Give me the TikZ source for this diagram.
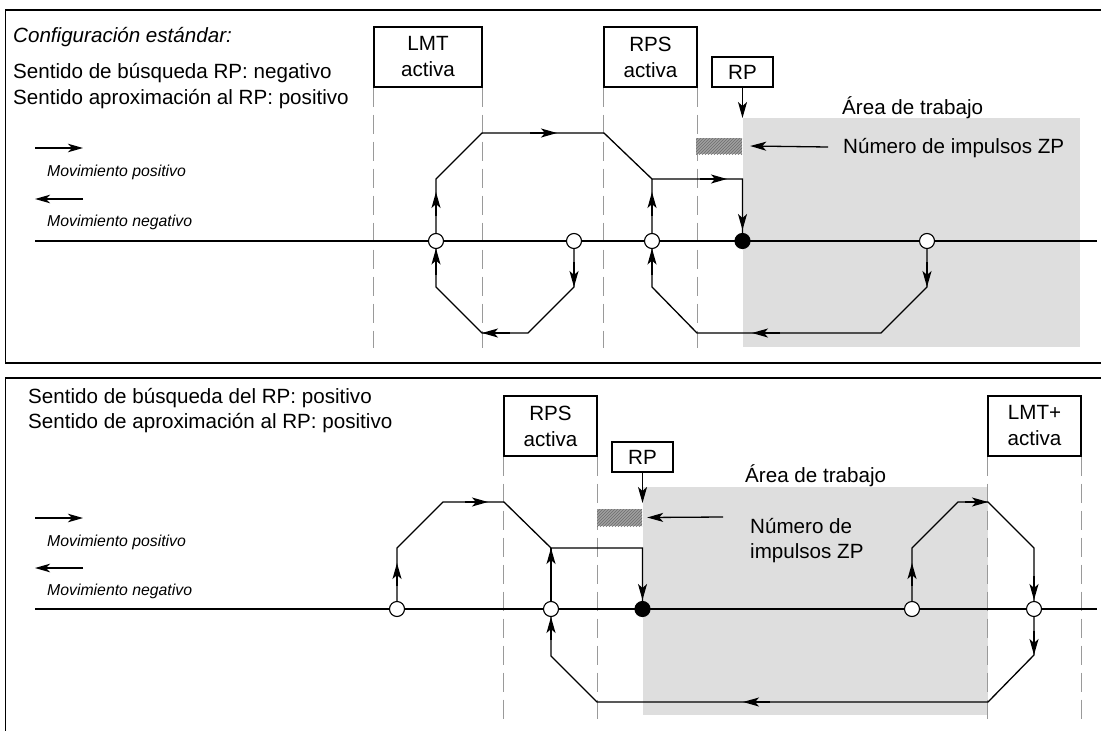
\documentclass[tikz,border=0pt]{standalone}
\usepackage{fontspec}
\setmainfont{Liberation Sans}
\usetikzlibrary{arrows.meta,patterns}
\definecolor{area}{HTML}{DEDEDE}
\definecolor{guidecol}{HTML}{9A9A9A}
\definecolor{hatchcol}{HTML}{A0A0A0}
\begin{document}
\begin{tikzpicture}[x=1pt,y=-1pt,
  big/.style={font=\fontsize{20.6}{26}\selectfont},
  small/.style={font=\itshape\fontsize{15.8}{19}\selectfont},
  lbl/.style={big,anchor=base west,inner sep=0},
  slbl/.style={small,anchor=base west,inner sep=0},
  boxn/.style={draw,line width=1.1pt,big,align=center,inner sep=0},
  guide/.style={draw=guidecol,line width=1.2pt,dash pattern=on 19pt off 8pt},
  track/.style={line width=1.3pt,line join=miter},
  tip/.style={-{Stealth[length=16pt,width=9pt,inset=4pt]},line width=1.3pt},
  legtip/.style={-{Stealth[length=15pt,width=8.5pt,inset=4pt]},line width=1.4pt},
  opencirc/.style={circle,draw,fill=white,line width=1.1pt,minimum size=15pt,inner sep=0},
  fullcirc/.style={circle,draw,fill=black,line width=1.1pt,minimum size=15pt,inner sep=0},
  hatchbar/.style={fill=hatchcol,postaction={pattern=north east lines,pattern color=gray!85!black},inner sep=0},
  frame/.style={line width=1.5pt},
  axis/.style={line width=1.3pt}
]
\useasboundingbox (0,0) rectangle (1101,731);

% ---------- working areas ----------
\fill[area] (743,118) rectangle (1080,347);
\fill[area] (643,487) rectangle (988,715);

% ---------- frames ----------
\draw[frame] (1120,10) -- (5.5,10) -- (5.5,363) -- (1120,363);
\draw[frame] (1120,378) -- (5.5,378) -- (5.5,745);

% ---------- top panel ----------
\node[lbl,font=\itshape\fontsize{20.6}{26}\selectfont] (cfg) at (13,42) {Configuración estándar:};
\node[lbl] (s1) at (13,78) {Sentido de búsqueda RP: negativo};
\node[lbl] (s2) at (13,104) {Sentido aproximación al RP: positivo};

\coordinate (lp1a) at (35,148); \coordinate (lp1b) at (83,148);
\draw[legtip] (lp1a) -- (lp1b);
\node[slbl] (mp1) at (47,176) {Movimiento positivo};
\coordinate (ln1a) at (83,199); \coordinate (ln1b) at (35,199);
\draw[legtip] (ln1a) -- (ln1b);
\node[slbl] (mn1) at (47,226) {Movimiento negativo};

\node[boxn,minimum width=108pt,minimum height=60pt] (lmt) at (428,57) {LMT\\activa};
\node[boxn,minimum width=93pt,minimum height=60pt] (rps) at (650.5,57) {RPS\\activa};
\node[boxn,minimum width=61pt,minimum height=30pt] (rp) at (742.5,72) {RP};

\draw[guide] (lmt.south west) -- ++(0,260);
\draw[guide] (lmt.south east) -- ++(0,260);
\draw[guide] (rps.south west) -- ++(0,260);
\draw[guide] (rps.south east) -- ++(0,260);

\coordinate (rptip) at (742.5,118);
\draw[tip] (rp.south) -- (rptip);

\node[hatchbar,minimum width=46pt,minimum height=16pt] (hb) at (719,146) {};
\node[lbl] (zp) at (843,153) {Número de impulsos ZP};
\coordinate (zpa) at (828,147);
\draw[tip] (zpa) -- ([xshift=8pt]hb.east);
\node[lbl] (area1) at (842,114) {Área de trabajo};

\coordinate (ax1a) at (35,241); \coordinate (ax1b) at (1097,241);
\draw[axis] (ax1a) -- (ax1b);

\coordinate (a1) at (436,241);
\coordinate (a2) at (574,241);
\coordinate (a3) at (652,241);
\coordinate (b1) at (742.5,241);
\coordinate (a4) at (927,241);

\draw[track] (a2) -- (574,287) -- (528,333) -- (482,333) -- (436,287) -- (a1)
  -- (436,179) -- (482,133) -- (604,133) -- (652,179);
\draw[track] (a4) -- (927,287) -- (881,333) -- (697,333) -- (652,287) -- (a3)
  -- (652,179) -- (742.5,179) -- (b1);

\draw[tip] (574,262) -- (574,287);
\draw[tip] (510,333) -- (482,333);
\draw[tip] (436,275) -- (436,248.5);
\draw[tip] (436,216) -- (436,192);
\draw[tip] (530,133) -- (557,133);
\draw[tip] (927,262) -- (927,287);
\draw[tip] (780,333) -- (752,333);
\draw[tip] (652,275) -- (652,248.5);
\draw[tip] (652,216) -- (652,192);
\draw[tip] (700,179) -- (727,179);
\draw[tip] (742.5,205) -- (742.5,230);

\node[opencirc] (ca1) at (a1) {};
\node[opencirc] (ca2) at (a2) {};
\node[opencirc] (ca3) at (a3) {};
\node[fullcirc] (cb1) at (b1) {};
\node[opencirc] (ca4) at (a4) {};

% ---------- bottom panel ----------
\node[lbl] (t1) at (28,403) {Sentido de búsqueda del RP: positivo};
\node[lbl] (t2) at (28,428) {Sentido de aproximación al RP: positivo};

\coordinate (lp2a) at (35,518); \coordinate (lp2b) at (83,518);
\draw[legtip] (lp2a) -- (lp2b);
\node[slbl] (mp2) at (47,546) {Movimiento positivo};
\coordinate (ln2a) at (83,568); \coordinate (ln2b) at (35,568);
\draw[legtip] (ln2a) -- (ln2b);
\node[slbl] (mn2) at (47,595) {Movimiento negativo};

\node[boxn,minimum width=93pt,minimum height=60pt] (rps2) at (550.5,426) {RPS\\activa};
\node[boxn,minimum width=61pt,minimum height=30pt] (rp2) at (642.5,457) {RP};
\node[boxn,minimum width=93pt,minimum height=60pt] (lmtp) at (1034.5,426) {LMT+\\activa};

\draw[guide] (rps2.south west) -- ++(0,264);
\draw[guide] (rps2.south east) -- ++(0,264);
\draw[guide] (lmtp.south west) -- ++(0,264);
\draw[guide] (lmtp.south east) -- ++(0,264);

\coordinate (rp2tip) at (642.5,503);
\draw[tip] (rp2.south) -- (rp2tip);

\node[hatchbar,minimum width=45pt,minimum height=17pt] (hb2) at (619.5,517.5) {};
\coordinate (zp2a) at (723,517);
\draw[tip] (zp2a) -- ([xshift=5pt]hb2.east);
\node[lbl] (zp2) at (750,533) {Número de};
\node[lbl] (zp3) at (750,558) {impulsos ZP};
\node[lbl] (area2) at (745,482) {Área de trabajo};

\coordinate (ax2a) at (35,609); \coordinate (ax2b) at (1097,609);
\draw[axis] (ax2a) -- (ax2b);

\coordinate (c1) at (397,609);
\coordinate (c2) at (551,609);
\coordinate (d1) at (642.5,609);
\coordinate (c3) at (912,609);
\coordinate (c4) at (1034,609);

\draw[track] (c1) -- (397,548) -- (443,502) -- (504,502) -- (551,548) -- (642.5,548) -- (d1);
\draw[track] (c2) -- (551,548);
\draw[track] (c4) -- (1034,655) -- (988,702) -- (597,702) -- (551,656) -- (c2);
\draw[track] (c3) -- (912,548) -- (958,502) -- (988,502) -- (1034,548) -- (c4);

\draw[tip] (397,586) -- (397,563);
\draw[tip] (465,502) -- (488,502);
\draw[tip] (642.5,576) -- (642.5,600);
\draw[tip] (551,572) -- (551,548);
\draw[tip] (1034,631) -- (1034,655);
\draw[tip] (770,702) -- (743,702);
\draw[tip] (551,640) -- (551,617);
\draw[tip] (912,586) -- (912,563);
\draw[tip] (965,502) -- (988,502);
\draw[tip] (1034,576) -- (1034,600);

\node[opencirc] (cc1) at (c1) {};
\node[opencirc] (cc2) at (c2) {};
\node[fullcirc] (cd1) at (d1) {};
\node[opencirc] (cc3) at (c3) {};
\node[opencirc] (cc4) at (c4) {};
\end{tikzpicture}
\end{document}
